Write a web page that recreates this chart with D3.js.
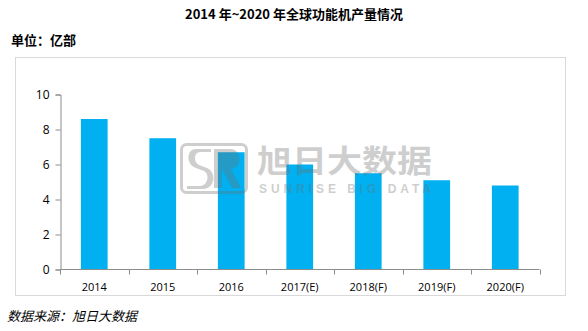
<!DOCTYPE html>
<html>
<head>
<meta charset="utf-8">
<script src="https://cdn.jsdelivr.net/npm/d3@7"></script>
<style>
  html, body { margin: 0; padding: 0; background: #fff; }
  svg { display: block; }
</style>
</head>
<body>
<svg id="chart" width="588" height="331"></svg>
<script>
// Feature-phone output by year (hundred-million units)
const years = ["2014", "2015", "2016", "2017(E)", "2018(F)", "2019(F)", "2020(F)"];
const output = [8.6, 7.5, 6.7, 6.0, 5.5, 5.1, 4.8];
const yTicks = [0, 2, 4, 6, 8, 10];

const titleText = "2014 年~2020 年全球功能机产量情况";
const unitText = "单位：亿部";
const sourceText = "数据来源：旭日大数据";

const svg = d3.select("#chart");
const cjk = "'Noto Sans CJK SC', 'Noto Sans', sans-serif";
const latin = "'Open Sans', 'Liberation Sans', sans-serif";

// Title and unit
svg.append("text")
  .attr("x", 294).attr("y", 19)
  .attr("text-anchor", "middle")
  .attr("font-family", cjk).attr("font-weight", "bold")
  .attr("font-size", 13).attr("fill", "#000")
  .text(titleText);

svg.append("text")
  .attr("x", 11).attr("y", 45)
  .attr("font-family", cjk).attr("font-weight", "bold")
  .attr("font-size", 13).attr("fill", "#000")
  .text(unitText);

// Plot frame
svg.append("rect")
  .attr("x", 15.5).attr("y", 57.5)
  .attr("width", 550).attr("height", 238)
  .attr("fill", "none").attr("stroke", "#d9d9d9");

// Scales
const x = d3.scaleBand().domain(years).range([60, 539.5]).paddingInner(0.61).paddingOuter(0.305);
const y = d3.scaleLinear().domain([0, 10]).range([269.5, 94.5]);

// Bars
svg.append("g").selectAll("rect")
  .data(years)
  .join("rect")
  .attr("x", d => x(d))
  .attr("width", x.bandwidth())
  .attr("y", (d, i) => y(output[i]))
  .attr("height", (d, i) => y(0) - y(output[i]))
  .attr("fill", "#00b0f0");

// Y axis
const yAxis = svg.append("g")
  .attr("transform", "translate(60.5,0)")
  .call(d3.axisLeft(y).tickValues(yTicks).tickSize(5).tickPadding(6).tickFormat(d3.format("d")));
yAxis.selectAll("path, line").attr("stroke", "#8c8c8c");
yAxis.selectAll("text").attr("font-family", latin).attr("font-size", 12).attr("fill", "#000");

// X axis with ticks at band boundaries
const xAxis = svg.append("g")
  .attr("transform", "translate(0,269.5)");
xAxis.append("line")
  .attr("x1", 60).attr("x2", 539.5)
  .attr("stroke", "#8c8c8c");
const step = x.step();
const bounds = d3.range(years.length + 1).map(i => 60 + i * step);
xAxis.selectAll("line.tick")
  .data(bounds)
  .join("line")
  .attr("class", "tick")
  .attr("x1", d => Math.round(d) + 0.5).attr("x2", d => Math.round(d) + 0.5)
  .attr("y1", 0).attr("y2", 5)
  .attr("stroke", "#8c8c8c");
xAxis.selectAll("text")
  .data(years)
  .join("text")
  .attr("x", d => x(d) + x.bandwidth() / 2)
  .attr("y", 21)
  .attr("text-anchor", "middle")
  .attr("font-family", latin).attr("font-size", 11).attr("fill", "#000")
  .text(d => d);

// Brand watermark, drawn semi-transparent over the bars
const wm = svg.append("g").attr("opacity", 0.33);
const grey = "#6e6e6e";
wm.append("rect")
  .attr("x", 181.5).attr("y", 144.5).attr("width", 65).attr("height", 48)
  .attr("rx", 5).attr("fill", "none").attr("stroke", grey).attr("stroke-width", 3);
// stylised S
wm.append("path")
  .attr("d", "M211,149 L196,149 C186,149 186,165 196,168 L204,171 C210,174 208,186 200,186 L187,186 L187,189 L203,189 C215,189 217,172 207,168 L199,165 C193,162 194,152 200,152 L211,152 Z")
  .attr("fill", grey);
// stylised R
wm.append("path")
  .attr("d", "M214,149 L230,149 C242,149 243,168 231,169 L241,188 L232,188 L222,169 L222,188 L214,188 Z")
  .attr("fill", grey);
wm.append("text")
  .attr("x", 257).attr("y", 172)
  .attr("font-family", cjk).attr("font-weight", "bold")
  .attr("font-size", 31).attr("fill", grey)
  .attr("textLength", 175).attr("lengthAdjust", "spacingAndGlyphs")
  .text("旭日大数据");
wm.append("text")
  .attr("x", 259).attr("y", 193)
  .attr("font-family", "'Liberation Sans', sans-serif").attr("font-weight", "bold")
  .attr("font-size", 12).attr("fill", grey)
  .attr("textLength", 172).attr("lengthAdjust", "spacing")
  .text("SUNRISE BIG DATA");

// Source note
svg.append("text")
  .attr("x", 7).attr("y", 321)
  .attr("font-family", cjk).attr("font-style", "italic")
  .attr("font-size", 13).attr("fill", "#000")
  .text(sourceText);
</script>
</body>
</html>
